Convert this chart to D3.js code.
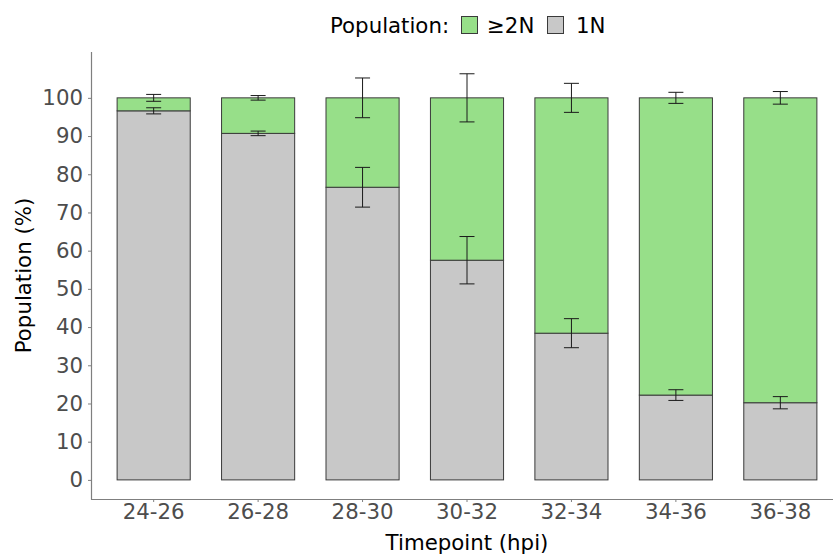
<!DOCTYPE html>
<html><head><meta charset="utf-8">
<script src="https://cdn.jsdelivr.net/npm/d3@7"></script>
<style>body{margin:0;background:#fff}svg{display:block;font-family:"DejaVu Sans",sans-serif}</style>
</head><body><svg id="c" width="833" height="555"></svg>
<script>
const categories = ["24-26","26-28","28-30","30-32","32-34","34-36","36-38"];
const oneN = [96.6, 90.7, 76.6, 57.5, 38.4, 22.2, 20.2];
const oneNErr = [0.8, 0.6, 5.2, 6.2, 3.8, 1.4, 1.6];
const twoN = [3.4, 9.3, 23.4, 42.5, 61.6, 77.8, 79.8];
const twoNErr = [0.9, 0.6, 5.2, 6.3, 3.8, 1.45, 1.65];
const yTicks = [0,10,20,30,40,50,60,70,80,90,100];
const legendLabels = ["≥2N","1N"];
const colors = {two:"#97df89", one:"#c8c8c8"};
const FS = 21.3;

const svg = d3.select("#c");
const x = d3.scaleBand().domain(categories).range([91, 843]).paddingInner(0.3).paddingOuter(0.25);
const y = d3.scaleLinear().domain([-5, 112]).range([499, 52]);

// bars
const g = svg.append("g");
categories.forEach((c, i) => {
  const x0 = x(c), w = x.bandwidth();
  g.append("rect").attr("x", x0).attr("y", y(oneN[i])).attr("width", w)
    .attr("height", y(0) - y(oneN[i])).attr("fill", colors.one)
    .attr("stroke", "#3a3a3a").attr("stroke-width", 1);
  g.append("rect").attr("x", x0).attr("y", y(oneN[i] + twoN[i])).attr("width", w)
    .attr("height", y(oneN[i]) - y(oneN[i] + twoN[i])).attr("fill", colors.two)
    .attr("stroke", "#3a3a3a").attr("stroke-width", 1);
});
// error bars
const cap = 15;
function errbar(cx, v, e) {
  const eg = g.append("g").attr("stroke", "#1a1a1a").attr("stroke-width", 1);
  eg.append("line").attr("x1", cx).attr("x2", cx).attr("y1", y(v + e)).attr("y2", y(v - e));
  eg.append("line").attr("x1", cx - cap/2).attr("x2", cx + cap/2).attr("y1", y(v + e)).attr("y2", y(v + e));
  eg.append("line").attr("x1", cx - cap/2).attr("x2", cx + cap/2).attr("y1", y(v - e)).attr("y2", y(v - e));
}
categories.forEach((c, i) => {
  const cx = x(c) + x.bandwidth()/2;
  errbar(cx, oneN[i] + twoN[i], twoNErr[i]);
  errbar(cx, oneN[i], oneNErr[i]);
});

// axes
const yAxis = svg.append("g").attr("transform", "translate(91,0)")
  .call(d3.axisLeft(y).tickValues(yTicks).tickSize(3).tickPadding(5));
const xAxis = svg.append("g").attr("transform", "translate(0,499)")
  .call(d3.axisBottom(x).tickSize(3).tickPadding(2));
[yAxis, xAxis].forEach(a => {
  a.select(".domain").attr("stroke", "#7f7f7f").attr("stroke-width", 1.2);
  a.selectAll(".tick line").attr("stroke", "#7f7f7f");
  a.selectAll(".tick text").attr("fill", "#4d4d4d").attr("font-size", FS)
    .attr("font-family", "DejaVu Sans");
});
yAxis.select(".domain").attr("d", "M0.5,52V499.5");
xAxis.select(".domain").attr("d", "M91,0.5H843");

// titles
svg.append("text").attr("x", 467).attr("y", 550).attr("text-anchor", "middle")
  .attr("font-size", FS).attr("fill", "#000").text("Timepoint (hpi)");
svg.append("text").attr("transform", "translate(31,275.5) rotate(-90)").attr("text-anchor", "middle")
  .attr("font-size", FS).attr("fill", "#000").text("Population (%)");

// legend
const lg = svg.append("g");
lg.append("text").attr("x", 330).attr("y", 33).attr("font-size", FS).text("Population:");
lg.append("rect").attr("x", 461.5).attr("y", 16.5).attr("width", 16).attr("height", 17)
  .attr("fill", colors.two).attr("stroke", "#3a3a3a");
lg.append("text").attr("x", 487).attr("y", 33).attr("font-size", FS).text(legendLabels[0]);
lg.append("rect").attr("x", 547.5).attr("y", 16.5).attr("width", 16).attr("height", 17)
  .attr("fill", colors.one).attr("stroke", "#3a3a3a");
lg.append("text").attr("x", 576).attr("y", 33).attr("font-size", FS).text(legendLabels[1]);
</script></body></html>
